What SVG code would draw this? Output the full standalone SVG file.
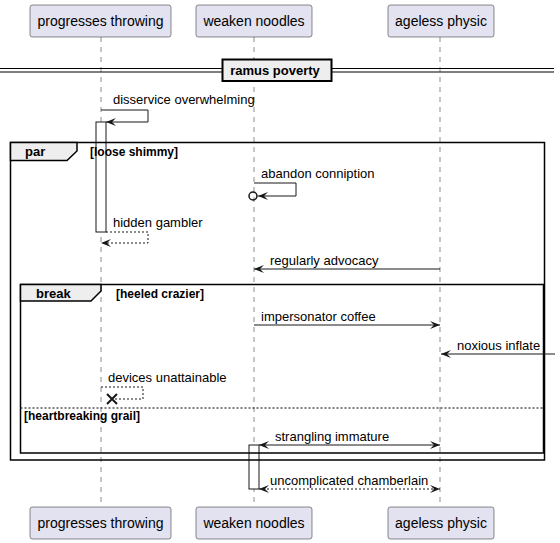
<svg xmlns="http://www.w3.org/2000/svg" width="560" height="543" viewBox="0 0 560 543">
<defs>
<marker id="ah" viewBox="0 0 10 8" refX="10" refY="4" markerWidth="10" markerHeight="8" markerUnits="userSpaceOnUse" orient="auto-start-reverse">
<path d="M0,0 L10,4 L0,8 L4,4 Z" fill="#181818"/>
</marker>
</defs>
<style>
.pbox{fill:#E2E2F0;stroke:#181818;stroke-width:0.5}
.pt{font-family:"Liberation Sans",Arial,sans-serif;font-size:14px;fill:#000}
.life{stroke:#181818;stroke-width:0.5;stroke-dasharray:5,5;fill:none}
.msg{stroke:#181818;stroke-width:1;fill:none}
.dash{stroke-dasharray:2,2}
.mt{font-family:"Liberation Sans",Arial,sans-serif;font-size:13px;fill:#000}
.frame{fill:none;stroke:#000;stroke-width:1.5}
.tab{fill:#EEEEEE;stroke:#000;stroke-width:1.5}
.ft{font-family:"Liberation Sans",Arial,sans-serif;font-size:13px;font-weight:bold;fill:#000}
.gt{font-family:"Liberation Sans",Arial,sans-serif;font-size:12px;font-weight:bold;fill:#000}
.act{fill:#FFFFFF;stroke:#181818;stroke-width:1}
</style>
<g id="lifelines">
<line class="life" x1="101" y1="37" x2="101" y2="507"/>
<line class="life" x1="254" y1="37" x2="254" y2="507"/>
<line class="life" x1="440" y1="37" x2="440" y2="507"/>
</g>
<g id="p1">
<rect class="pbox" x="30" y="5" width="141" height="32" rx="2.5"/>
<text class="pt" x="100.5" y="26" text-anchor="middle">progresses throwing</text>
<rect class="pbox" x="30" y="507" width="141" height="32" rx="2.5"/>
<text class="pt" x="100.5" y="528" text-anchor="middle">progresses throwing</text>
</g>
<g id="p2">
<rect class="pbox" x="196" y="5" width="116" height="32" rx="2.5"/>
<text class="pt" x="254" y="26" text-anchor="middle">weaken noodles</text>
<rect class="pbox" x="196" y="507" width="116" height="32" rx="2.5"/>
<text class="pt" x="254" y="528" text-anchor="middle">weaken noodles</text>
</g>
<g id="p3">
<rect class="pbox" x="388" y="5" width="106" height="32" rx="2.5"/>
<text class="pt" x="441" y="26" text-anchor="middle">ageless physic</text>
<rect class="pbox" x="388" y="507" width="106" height="32" rx="2.5"/>
<text class="pt" x="441" y="528" text-anchor="middle">ageless physic</text>
</g>
<g id="divider">
<line x1="0" y1="68.5" x2="554" y2="68.5" stroke="#000" stroke-width="1.2"/>
<line x1="0" y1="72" x2="554" y2="72" stroke="#000" stroke-width="1.2"/>
<rect x="222.5" y="59.5" width="109" height="21.5" fill="#EEEEEE" stroke="#000" stroke-width="2"/>
<text class="ft" x="275" y="75" text-anchor="middle">ramus poverty</text>
</g>
<g id="activations">
<rect class="act" x="96" y="122" width="10" height="110"/>
<rect class="act" x="249" y="445" width="10" height="44"/>
</g>
<g id="par">
<rect class="frame" x="10.5" y="142.5" width="534" height="317.5"/>
<path class="tab" d="M10.5,142.5 L77,142.5 L77,151 L67,160.5 L10.5,160.5 Z"/>
<text class="ft" x="25" y="156">par</text>
<text class="gt" x="90" y="155.5">[loose shimmy]</text>
</g>
<g id="break">
<rect class="frame" x="20.5" y="284.5" width="523" height="168.5"/>
<path class="tab" d="M20.5,284.5 L101,284.5 L101,291 L91,301 L20.5,301 Z"/>
<text class="ft" x="36" y="298">break</text>
<text class="gt" x="116" y="298">[heeled crazier]</text>
<line x1="20.5" y1="408" x2="543.5" y2="408" stroke="#000" stroke-width="1" stroke-dasharray="2,2"/>
<text class="gt" x="24" y="419.5">[heartbreaking grail]</text>
</g>
<g id="connectors">
<path class="msg" d="M101,110 L148,110 L148,122 L106,122" marker-end="url(#ah)"/>
<text class="mt" x="113" y="104">disservice overwhelming</text>
<path class="msg" d="M254,183 L296,183 L296,196 L258,196" marker-end="url(#ah)"/>
<circle cx="253" cy="196" r="4" fill="none" stroke="#181818" stroke-width="1.5"/>
<text class="mt" x="261" y="178">abandon conniption</text>
<path class="msg dash" d="M106,232 L148,232 L148,243 L101,243" marker-end="url(#ah)"/>
<text class="mt" x="113" y="227">hidden gambler</text>
<line class="msg" x1="440" y1="269" x2="254" y2="269" marker-end="url(#ah)"/>
<text class="mt" x="270" y="265">regularly advocacy</text>
<line class="msg" x1="254" y1="325" x2="440" y2="325" marker-end="url(#ah)"/>
<text class="mt" x="261" y="321">impersonator coffee</text>
<line class="msg" x1="555" y1="354" x2="441" y2="354" marker-end="url(#ah)"/>
<text class="mt" x="457" y="350">noxious inflate</text>
<path class="msg dash" d="M101,387 L143,387 L143,399 L112,399"/>
<path d="M107,394 L117,404 M107,404 L117,394" stroke="#181818" stroke-width="2"/>
<text class="mt" x="108" y="382">devices unattainable</text>
<line class="msg" x1="259" y1="445" x2="440" y2="445" marker-start="url(#ah)" marker-end="url(#ah)"/>
<text class="mt" x="275" y="441">strangling immature</text>
<line class="msg dash" x1="259" y1="489" x2="440" y2="489" marker-start="url(#ah)" marker-end="url(#ah)"/>
<text class="mt" x="270" y="485">uncomplicated chamberlain</text>
</g>
</svg>
